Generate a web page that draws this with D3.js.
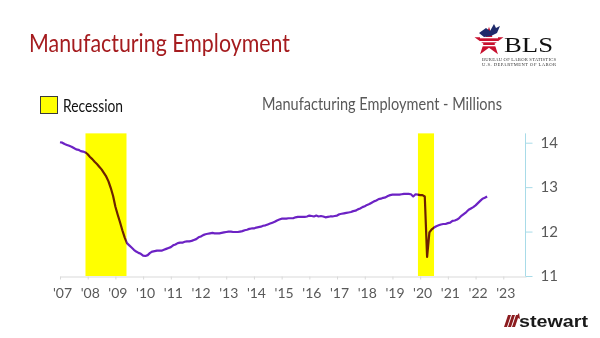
<!DOCTYPE html>
<html><head><meta charset="utf-8">
<script src="https://cdn.jsdelivr.net/npm/d3@7"></script>
<style>
html,body{margin:0;padding:0;background:#fff;}
svg{display:block;}
</style></head>
<body>
<svg id="c" width="600" height="338"></svg>
<script>
// ---- data ----
const startYear = 2007; // monthly series, January 2007 onward
const employment = [
  14.01,14.00,13.97,13.95,13.93,13.91,13.88,13.85,13.84,13.81,13.80,13.78,
  13.74,13.68,13.63,13.57,13.52,13.46,13.40,13.32,13.24,13.13,12.98,12.80,
  12.56,12.38,12.21,12.03,11.87,11.74,11.69,11.64,11.59,11.55,11.52,11.50,
  11.46,11.45,11.47,11.52,11.55,11.56,11.57,11.57,11.57,11.59,11.61,11.63,
  11.65,11.69,11.71,11.74,11.75,11.75,11.77,11.78,11.78,11.79,11.81,11.83,
  11.87,11.89,11.92,11.94,11.95,11.96,11.97,11.96,11.96,11.96,11.97,11.98,
  11.99,12.00,12.00,11.99,11.99,11.99,12.00,12.01,12.03,12.04,12.06,12.07,
  12.07,12.09,12.10,12.11,12.13,12.14,12.16,12.18,12.20,12.22,12.25,12.27,
  12.29,12.29,12.29,12.30,12.30,12.30,12.32,12.33,12.33,12.33,12.33,12.34,
  12.36,12.35,12.34,12.36,12.34,12.35,12.34,12.32,12.33,12.34,12.34,12.35,
  12.36,12.39,12.40,12.41,12.42,12.43,12.44,12.46,12.47,12.50,12.52,12.55,
  12.57,12.60,12.62,12.65,12.68,12.70,12.73,12.74,12.76,12.77,12.80,12.82,
  12.83,12.83,12.83,12.83,12.84,12.85,12.85,12.85,12.84,12.79,12.84,12.83,
  12.82,12.82,12.79,11.43,11.98,12.05,12.09,12.12,12.14,12.16,12.17,12.17,
  12.19,12.20,12.24,12.25,12.27,12.31,12.36,12.40,12.44,12.49,12.52,12.55,
  12.59,12.64,12.69,12.74,12.76,12.79
];
const recessionStart = [2007.92, 2019.92];
const recessionEnd   = [2009.40, 2020.50];
const xTickYears = [2007,2008,2009,2010,2011,2012,2013,2014,2015,2016,2017,2018,2019,2020,2021,2022,2023];
const xTickLabels = ["'07","'08","'09","'10","'11","'12","'13","'14","'15","'16","'17","'18","'19","'20","'21","'22","'23"];
const yTicks = [11,12,13,14];

// ---- chart ----
const svg = d3.select("#c");
const FONT = "Lato, 'Open Sans', sans-serif";
const x = d3.scaleLinear().domain([2007, 2023.82]).range([60, 526]);
const y = d3.scaleLinear().domain([11, 14]).range([276, 142.7]);
const yTop = y(14.21);

const series = employment.map((v,i)=>({t:startYear + i/12, v}));

// title
svg.append("text").attr("x",29).attr("y",52)
  .attr("font-family",FONT).attr("font-size",25)
  .attr("textLength",261).attr("lengthAdjust","spacingAndGlyphs")
  .attr("fill","#a51c1f").text("Manufacturing Employment");

// chart subtitle
svg.append("text").attr("x",262).attr("y",110)
  .attr("font-family",FONT).attr("font-size",16.5)
  .attr("textLength",240).attr("lengthAdjust","spacingAndGlyphs")
  .attr("fill","#595959").text("Manufacturing Employment - Millions");

// legend
svg.append("rect").attr("x",40.5).attr("y",96.5).attr("width",17).attr("height",17)
  .attr("fill","#ffff00").attr("stroke","#3a3a3a").attr("stroke-width",1);
svg.append("text").attr("x",63).attr("y",112)
  .attr("font-family",FONT).attr("font-size",16.5)
  .attr("textLength",60).attr("lengthAdjust","spacingAndGlyphs")
  .attr("fill","#111").text("Recession");

// bottom axis
const xAxis = d3.axisBottom(x).tickValues(xTickYears)
  .tickFormat((d,i)=>xTickLabels[i]).tickSize(3).tickPadding(9).tickSizeOuter(0);
const gx = svg.append("g").attr("transform","translate(0,276.5)").call(xAxis);
gx.select(".domain").attr("stroke","#d9d9d9");
gx.selectAll(".tick line").attr("stroke","#d9d9d9");
gx.selectAll(".tick text").attr("font-family",FONT)
  .attr("font-size",14).attr("fill","#595959").attr("dx",2);

// right axis
const yAxis = d3.axisRight(y).tickValues(yTicks).tickFormat(d3.format("d"))
  .tickSize(7).tickPadding(8).tickSizeOuter(0);
const gy = svg.append("g").attr("transform","translate(525.5,0)").call(yAxis);
gy.select(".domain").attr("d",`M0,${yTop}V276`).attr("stroke","#a8dbe8");
gy.selectAll(".tick line").attr("stroke","#a8dbe8");
gy.selectAll(".tick text").attr("font-family",FONT)
  .attr("font-size",15).attr("fill","#595959");

// line
const line = d3.line().x(d=>x(d.t)).y(d=>y(d.v));
svg.append("path").datum(series).attr("d",line)
  .attr("fill","none").attr("stroke","#6c22c4").attr("stroke-width",2.2)
  .attr("stroke-linejoin","round");

// recession bars (multiply so the line shows through darkened)
svg.append("g").selectAll("rect").data(recessionStart).join("rect")
  .attr("x",(d)=>x(d)).attr("width",(d,i)=>x(recessionEnd[i])-x(d))
  .attr("y",yTop).attr("height",276-yTop)
  .attr("fill","#ffff00").style("mix-blend-mode","multiply");

// BLS logo
const logo = svg.append("g");
const star = d3.symbol().type(d3.symbolStar).size(260);
logo.append("path").attr("d",star()).attr("transform","translate(489,42)").attr("fill","#c8102e");
logo.append("path").attr("d","M479,33 L486,28 L490,31 L494,24 L496,28 L500,26 L497,33 L491,36 L484,37 Z").attr("fill","#1f2a6b");
[37,41,45].forEach(yy=>logo.append("rect").attr("x",480).attr("y",yy).attr("width",18).attr("height",1.3).attr("fill","#fff"));
logo.append("text").attr("x",504).attr("y",51.5)
  .attr("font-family","'Liberation Serif', 'DejaVu Serif', serif").attr("font-size",22)
  .attr("textLength",49).attr("lengthAdjust","spacingAndGlyphs")
  .attr("fill","#111").text("BLS");
logo.append("text").attr("x",482).attr("y",60.5)
  .attr("font-family","'Liberation Serif', serif").attr("font-size",4.6)
  .attr("fill","#333").attr("textLength",74).text("BUREAU OF LABOR STATISTICS");
logo.append("text").attr("x",482).attr("y",66)
  .attr("font-family","'Liberation Serif', serif").attr("font-size",4.6)
  .attr("fill","#333").attr("textLength",74).text("U.S. DEPARTMENT OF LABOR");

// stewart logo
const st = svg.append("g");
[0,4,8].forEach(o=>st.append("path")
  .attr("d",`M${504+o},327 L${508+o},315 L${511+o},315 L${507+o},327 Z`).attr("fill","#8c1c20"));
st.append("path").attr("d","M516,317 L519,313 L520,319 Z").attr("fill","#8c1c20");
st.append("text").attr("x",519).attr("y",327)
  .attr("font-family","'Liberation Sans', Arial, sans-serif").attr("font-weight","bold")
  .attr("font-size",17).attr("textLength",69).attr("lengthAdjust","spacingAndGlyphs")
  .attr("fill","#1a1a1a").text("stewart");
</script>
</body></html>
